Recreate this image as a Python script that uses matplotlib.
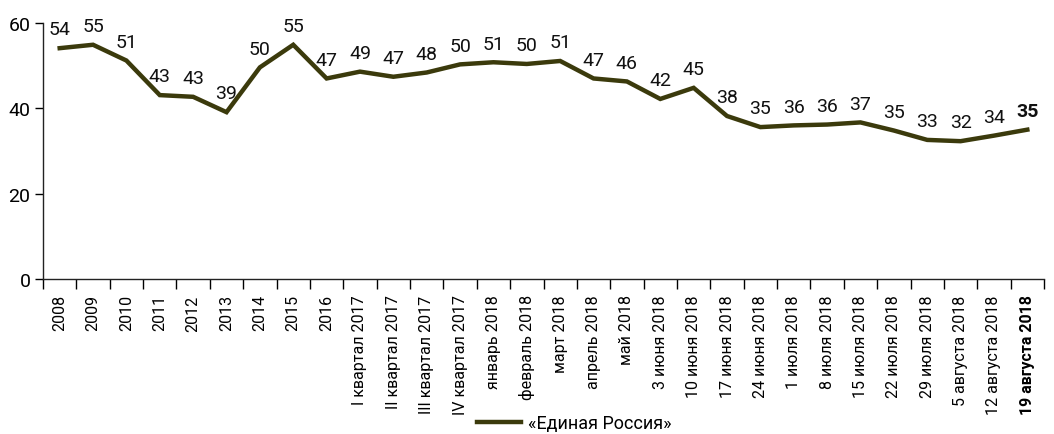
import matplotlib
matplotlib.use("Agg")
import matplotlib.pyplot as plt
from matplotlib import font_manager as fm
from matplotlib.ticker import FixedLocator

available = {f.name for f in fm.fontManager.ttflist}
family = "Liberation Sans Narrow" if "Liberation Sans Narrow" in available else "Roboto"
plt.rcParams['font.family'] = [family, 'DejaVu Sans']

categories = ["2008", "2009", "2010", "2011", "2012", "2013", "2014", "2015", "2016",
              "I квартал 2017", "II квартал 2017", "III квартал 2017", "IV квартал 2017",
              "январь 2018", "февраль 2018", "март 2018", "апрель 2018", "май 2018",
              "3 июня 2018", "10 июня 2018", "17 июня 2018", "24 июня 2018",
              "1 июля 2018", "8 июля 2018", "15 июля 2018", "22 июля 2018",
              "29 июля 2018", "5 августа 2018", "12 августа 2018", "19 августа 2018"]
values = [54.1, 54.9, 51.2, 43.1, 42.7, 39.1, 49.6, 54.9, 47.0,
          48.6, 47.4, 48.4, 50.3, 50.8, 50.4, 51.1, 47.0, 46.3,
          42.2, 44.8, 38.2, 35.6, 36.0, 36.2, 36.7, 34.8, 32.6, 32.3, 33.6, 35.0]
labels = [54, 55, 51, 43, 43, 39, 50, 55, 47, 49, 47, 48, 50, 51, 50, 51, 47, 46,
          42, 45, 38, 35, 36, 36, 37, 35, 33, 32, 34, 35]
series_name = "«Единая Россия»"
yticks = [0, 20, 40, 60]

color = "#3b3a0c"
fig = plt.figure(figsize=(10.54, 4.35), dpi=100)
ax = fig.add_axes([43/1054, (435-280)/435, (1044-43)/1054, (280-24)/435])

x = list(range(len(categories)))
ax.plot(x, values, color=color, lw=3.2, solid_joinstyle='miter', label=series_name)
n = len(categories)
for i, (xi, v, lab) in enumerate(zip(x, values, labels)):
    ax.annotate(str(lab), (xi, v), xytext=(0, 7), textcoords='offset points',
                ha='center', va='bottom', fontsize=14,
                fontweight='bold' if i == n - 1 else 'normal', color='#111111')

ax.set_xlim(-0.5, n - 0.5)
ax.set_ylim(0, 60)
ax.set_yticks(yticks)
ax.tick_params(axis='y', labelsize=14, length=6, width=1, direction='out', pad=3)
ax.set_xticks(x)
ax.set_xticklabels(categories, rotation=90, fontsize=11.5, va='top', ha='center')
ax.get_xticklabels()[-1].set_fontweight('bold')
ax.xaxis.set_minor_locator(FixedLocator([i - 0.5 for i in range(n + 1)]))
ax.tick_params(axis='x', which='major', length=0, pad=11)
ax.tick_params(axis='x', which='minor', length=7, width=1, direction='out')
for s in ['top', 'right']:
    ax.spines[s].set_visible(False)
for s in ['left', 'bottom']:
    ax.spines[s].set_color('#222222')
    ax.spines[s].set_linewidth(1)

fig.legend(loc='center', bbox_to_anchor=(0.545, 0.025), frameon=False,
           fontsize=13, handlelength=2.4, handletextpad=0.4)

fig.savefig("out.png", dpi=100)
